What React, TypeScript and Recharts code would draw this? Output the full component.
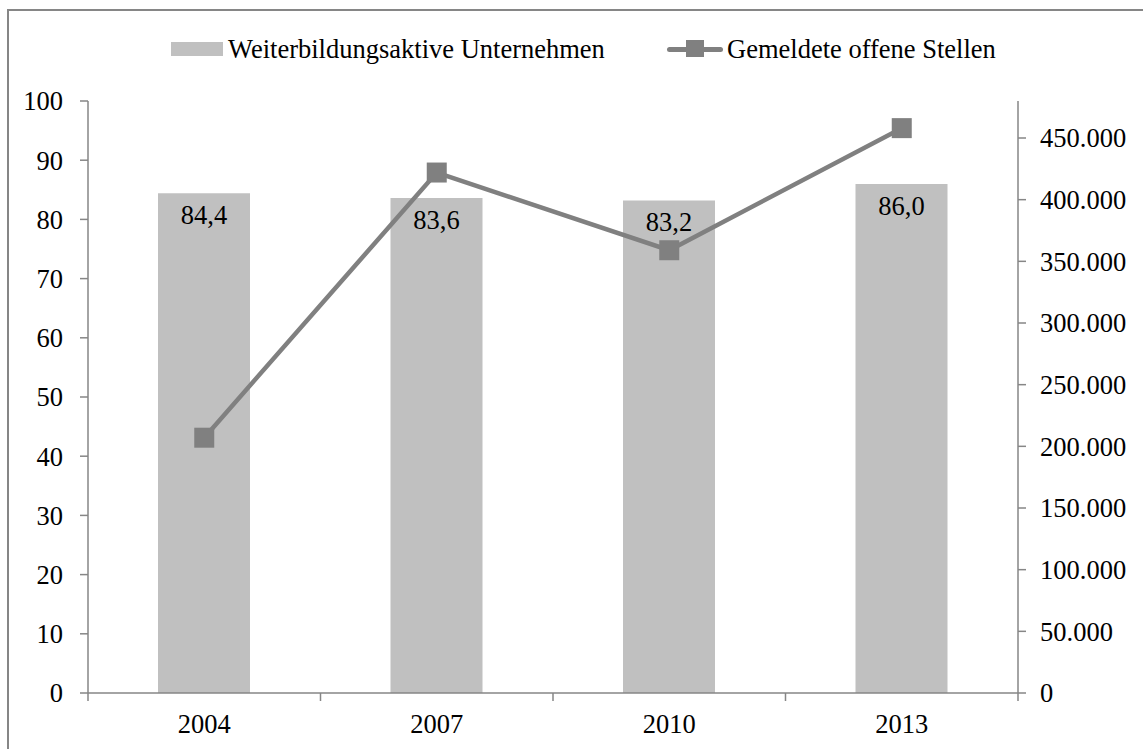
import React from 'react';
import {
  ComposedChart, Bar, Line, XAxis, YAxis, LabelList
} from 'recharts';

// Werte
const years = ['2004', '2007', '2010', '2013'];
const weiterbildung = [84.4, 83.6, 83.2, 86.0];
const offeneStellen = [207000, 422000, 359000, 458000];
const leftTicks = [0, 10, 20, 30, 40, 50, 60, 70, 80, 90, 100];
const rightTicks = [0, 50000, 100000, 150000, 200000, 250000, 300000, 350000, 400000, 450000];

const COLORS = {
  bar: '#c0c0c0',
  line: '#808080',
  axis: '#868686',
  text: '#000000'
};

const FONT = "'Liberation Serif', 'Times New Roman', serif";
const FS = 26.5;
const TICK_GAP = 21;

const data = years.map((y, i) => ({ year: y, wb: weiterbildung[i], os: offeneStellen[i] }));

// 450000 -> "450.000"
const fmtThousands = (v: number) => String(v).replace(/\B(?=(\d{3})+(?!\d))/g, '.');
const fmtComma = (v: any) => Number(v).toFixed(1).replace('.', ',');

const SquareDot = (props: any) => {
  const { cx, cy } = props;
  if (cx == null || cy == null) return null;
  return <rect x={cx - 10} y={cy - 10} width={20} height={20} fill={COLORS.line} />;
};

// Kategorie-Beschriftung mit Trennstrichen an den Bandgrenzen (wie in Excel)
const CatTick = (props: any) => {
  const { x, y, payload, index, visibleTicksCount } = props;
  const half = payload?.offset ?? 0;
  const axisY = y - TICK_GAP;
  const isLast = index === (visibleTicksCount ?? years.length) - 1;
  return (
    <g>
      <line x1={x - half} x2={x - half} y1={axisY} y2={axisY + 8} stroke={COLORS.axis} strokeWidth={1.5} />
      {isLast && <line x1={x + half} x2={x + half} y1={axisY} y2={axisY + 8} stroke={COLORS.axis} strokeWidth={1.5} />}
      <text x={x} y={y} dy="0.71em" textAnchor="middle" fontSize={FS} fill={COLORS.text} fontFamily={FONT}>
        {payload.value}
      </text>
    </g>
  );
};

const App: React.FC = () => {
  const tickStyle = { fontSize: FS, fill: COLORS.text, fontFamily: FONT };
  return (
    <div style={{ position: 'relative', width: 1143, height: 749, overflow: 'hidden', background: '#fff', fontFamily: FONT }}>
      <style>{`body{margin:0} .recharts-wrapper text{font-family:'Liberation Serif','Times New Roman',serif}`}</style>
      {/* Rahmen */}
      <div style={{ position: 'absolute', left: 7, top: 9, width: 1300, height: 900, border: `2px solid ${COLORS.axis}` }} />

      {/* Legende */}
      <div style={{ position: 'absolute', left: 171, top: 42, width: 52, height: 14, background: COLORS.bar }} />
      <div style={{ position: 'absolute', left: 228, top: 49, transform: 'translateY(-50%)', fontSize: FS, lineHeight: 1, whiteSpace: 'nowrap' }}>
        Weiterbildungsaktive Unternehmen
      </div>
      <div style={{ position: 'absolute', left: 667, top: 47, width: 56, height: 5, borderRadius: 3, background: COLORS.line }} />
      <div style={{ position: 'absolute', left: 686, top: 40, width: 18, height: 17, background: COLORS.line }} />
      <div style={{ position: 'absolute', left: 727, top: 49, transform: 'translateY(-50%)', fontSize: FS, lineHeight: 1, whiteSpace: 'nowrap' }}>
        Gemeldete offene Stellen
      </div>

      <div style={{ position: 'absolute', left: 0, top: 0 }}>
        <ComposedChart width={1143} height={749} data={data} margin={{ top: 101, right: 0, bottom: 0, left: 0 }}>
          <XAxis
            xAxisId="cat"
            dataKey="year"
            height={56}
            axisLine={{ stroke: COLORS.axis, strokeWidth: 1.5 }}
            tickLine={false}
            tickSize={0}
            tickMargin={TICK_GAP}
            tick={<CatTick />}
            interval={0}
          />

          <YAxis
            yAxisId="left"
            orientation="left"
            width={88}
            domain={[0, 100]}
            ticks={leftTicks}
            interval={0}
            tickSize={8}
            tickMargin={17}
            tick={tickStyle}
            axisLine={{ stroke: COLORS.axis, strokeWidth: 1.5 }}
            tickLine={{ stroke: COLORS.axis, strokeWidth: 1.5 }}
          />
          <YAxis
            yAxisId="right"
            orientation="right"
            width={125}
            domain={[0, 480000]}
            ticks={rightTicks}
            interval={0}
            tickSize={8}
            tickMargin={14}
            tick={tickStyle}
            tickFormatter={(v) => fmtThousands(Number(v))}
            axisLine={{ stroke: COLORS.axis, strokeWidth: 1.5 }}
            tickLine={{ stroke: COLORS.axis, strokeWidth: 1.5 }}
          />

          <Bar xAxisId="cat" yAxisId="left" dataKey="wb" fill={COLORS.bar} barSize={92} isAnimationActive={false}>
            <LabelList dataKey="wb" position="insideTop" offset={12} formatter={fmtComma}
              style={{ fontSize: FS, fill: COLORS.text, fontFamily: FONT }} />
          </Bar>

          <Line
            xAxisId="cat"
            yAxisId="right"
            type="linear"
            dataKey="os"
            stroke={COLORS.line}
            strokeWidth={4.5}
            dot={<SquareDot />}
            activeDot={false}
            isAnimationActive={false}
          />
        </ComposedChart>
      </div>
    </div>
  );
};

export default App;
